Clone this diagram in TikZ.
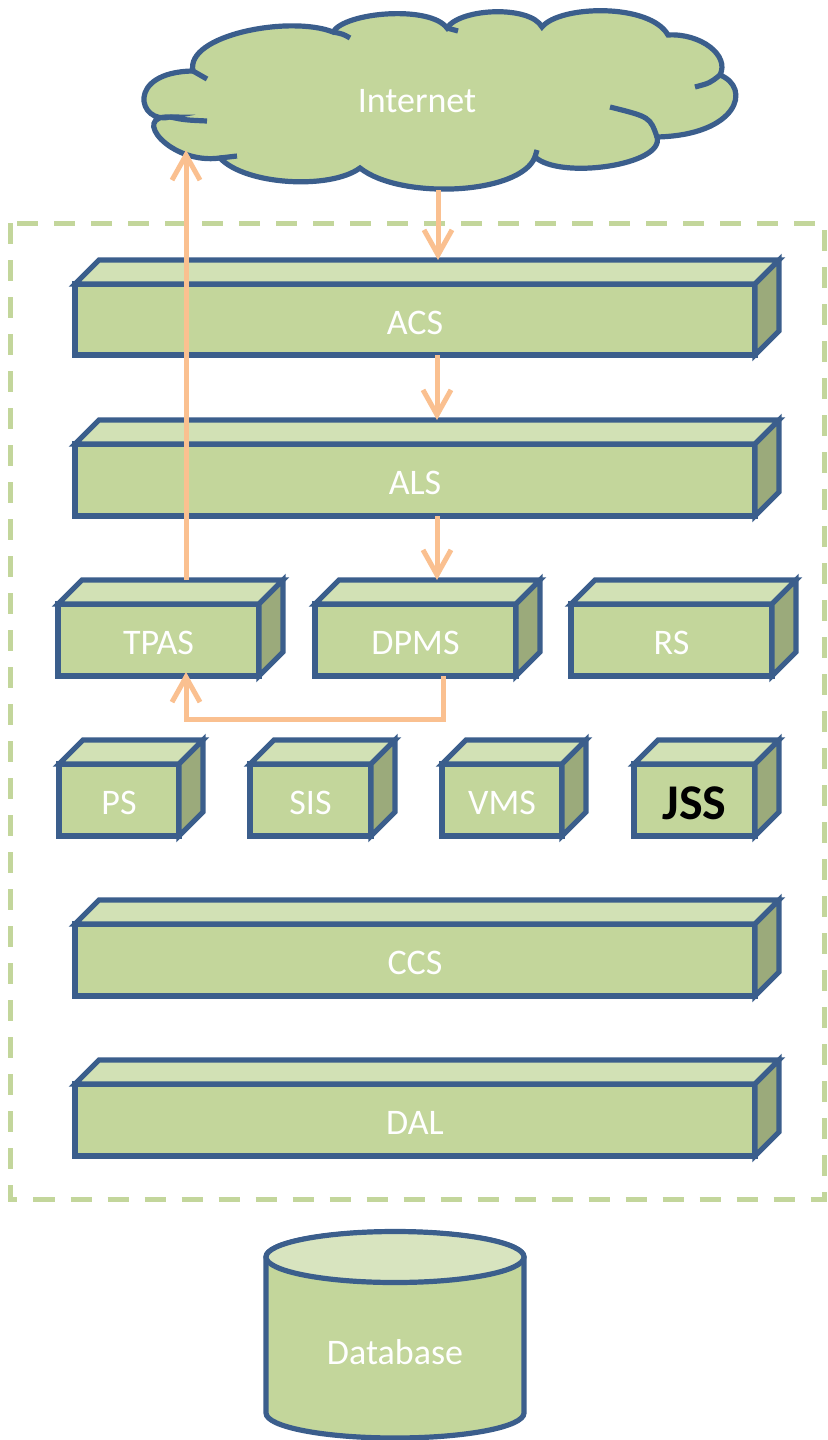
\documentclass[tikz,border=0pt]{standalone}
\usepackage{fontspec}
\setmainfont{Carlito}
\usetikzlibrary{arrows.meta}
\definecolor{boxfill}{HTML}{C3D69B}
\definecolor{boxtop}{HTML}{D2E1B5}
\definecolor{boxside}{HTML}{9BAA7B}
\definecolor{edge}{HTML}{3B5E8C}
\definecolor{arrowc}{HTML}{FAC090}
\definecolor{dbtop}{HTML}{D8E4BF}
\tikzset{
  boxline/.style={draw=edge, line width=2.6pt, line join=miter},
  boxfront/.style={boxline, fill=boxfill, outer sep=0pt, inner sep=0pt},
  arr/.style={draw=arrowc, line width=2.5pt, -{Straight Barb[length=12.5pt,width=14pt]}},
  cloudline/.style={draw=edge, line width=2.6pt},
  lbl/.style={text=white, font=\fontsize{18}{21}\selectfont},
}
\newcommand\cuboid[6]{%
  \node[boxfront, minimum width={(#4-#2)*0.5pt}, minimum height={(#5-#3)*0.5pt}] (#1) at ({(#2+#4)/2},{(#3+#5)/2}) {};
  \node[lbl] (#1-t) at ([yshift=-1.5pt]#1.center) {#6};
  \draw[boxline, fill=boxtop] (#1.north west) -- ++(24,-24) coordinate (#1-bl) -- ([shift={(24,-24)}]#1.north east) coordinate (#1-br) -- (#1.north east) -- cycle;
  \draw[boxline, fill=boxside] (#1.north east) -- ++(24,-24) -- ([shift={(24,-24)}]#1.south east) -- (#1.south east) -- cycle;
}
\begin{document}
\begin{tikzpicture}[x=0.5pt, y=-0.5pt]
\useasboundingbox (0,0) rectangle (827,1440);

% dashed frame
\draw[draw=boxfill, line width=2.5pt, dash pattern=on 10.5pt off 8pt] (10.5,223) rectangle (824,1199);

% cloud
\filldraw[fill=boxfill, cloudline]
 (170,117) .. controls (138,125) and (125,72) .. (193,71)
 .. controls (185,35) and (290,15) .. (333,32)
 .. controls (345,12) and (430,5) .. (447,28)
 .. controls (460,8) and (530,5) .. (542,27)
 .. controls (560,5) and (650,3) .. (668,35)
 .. controls (700,33) and (730,55) .. (720,75)
 .. controls (752,88) and (738,135) .. (657,137)
 .. controls (665,165) and (560,180) .. (535,157)
 .. controls (520,195) and (400,200) .. (360,168)
 .. controls (330,190) and (245,185) .. (220,158)
 .. controls (170,165) and (130,115) .. (170,117) -- cycle;
\draw[cloudline] (170,117) .. controls (185,120) .. (207,121);
\draw[cloudline] (193,71) -- (207,79);
\draw[cloudline] (333,32) .. controls (343,34) .. (350,38);
\draw[cloudline] (447,28) -- (458,31);
\draw[cloudline] (720,75) .. controls (710,83) .. (695,87);
\draw[cloudline] (657,137) .. controls (650,117) .. (610,107);
\draw[cloudline] (535,157) -- (537,150);
\draw[cloudline] (220,158) -- (237,156);
\node[lbl] (inet) at (417,101) {Internet};
\coordinate (inetout) at (438,190);
\coordinate (inetin) at (186,150);

% boxes
\cuboid{ACS}{75}{284}{755}{355}{ACS}
\cuboid{ALS}{75}{444}{755}{516}{ALS}
\cuboid{TPAS}{58}{604}{259}{676}{TPAS}
\cuboid{DPMS}{315}{604}{516}{676}{DPMS}
\cuboid{RS}{571}{604}{772}{676}{RS}
\cuboid{PS}{59}{764}{179}{836}{PS}
\cuboid{SIS}{250}{764}{371}{836}{SIS}
\cuboid{VMS}{442}{764}{562}{836}{VMS}
\cuboid{JSS}{634}{764}{755}{836}{\fontsize{25}{28}\selectfont\bfseries\color{black}JSS}
\cuboid{CCS}{75}{924}{755}{996}{CCS}
\cuboid{DAL}{75}{1084}{755}{1156}{DAL}

% database
\filldraw[boxline, fill=boxfill] (266,1257) -- (266,1413)
  arc[start angle=180, end angle=360, x radius=64.5pt, y radius=12.5pt]
  -- (524,1257) arc[start angle=0, end angle=180, x radius=64.5pt, y radius=12.5pt] -- cycle;
\filldraw[boxline, fill=dbtop] (395,1257) ellipse [x radius=64.5pt, y radius=12.75pt];
\node[lbl] (db) at (395,1352) {Database};

% arrows
\draw[arr] (inetout) -- (inetout |- ACS-bl);
\path ([xshift=11pt]ACS.south) coordinate (a1);
\draw[arr] (a1) -- (a1 |- ALS-bl);
\path ([xshift=11pt]ALS.south) coordinate (a2);
\draw[arr] (a2) -- (a2 |- DPMS-bl);
\draw[arr] (TPAS-bl -| inetin) -- (inetin);
\path ([xshift=14pt]DPMS.south) coordinate (a3);
\path (TPAS.south -| inetin) coordinate (a4);
\draw[arr] (a3) -- ++(0,43) -| ([yshift=2pt]a4);
\end{tikzpicture}
\end{document}
